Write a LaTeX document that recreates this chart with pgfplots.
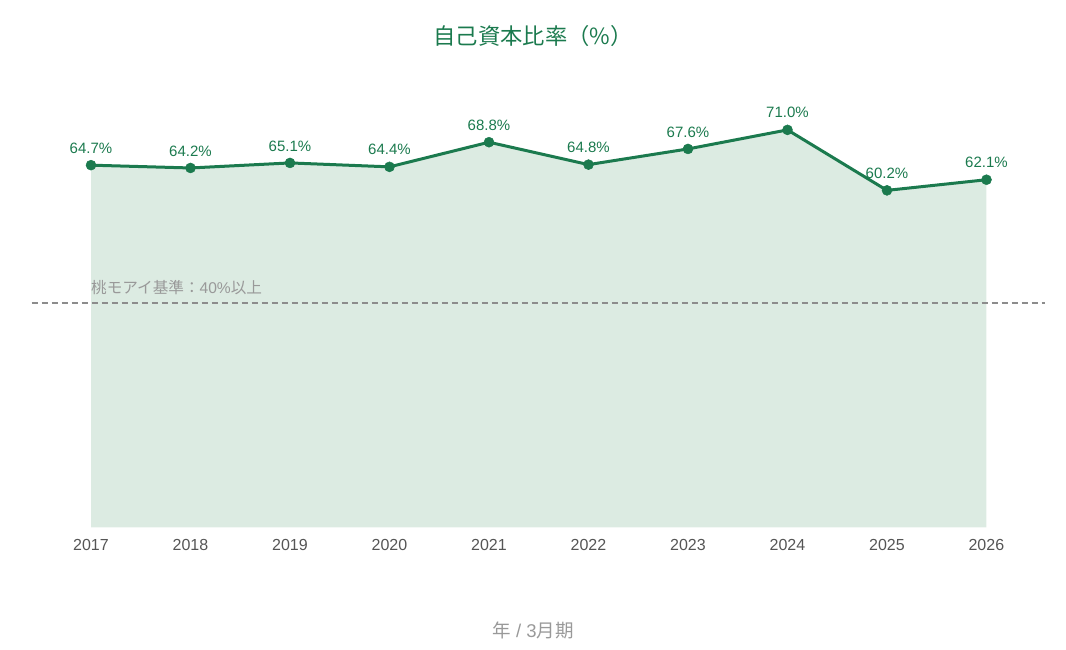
\documentclass[border=0pt]{standalone}
\usepackage{fontspec}
\setmainfont{Liberation Sans}
\newfontfamily\cjk{Noto Sans CJK JP}
\usepackage{pgfplots}
\pgfplotsset{compat=1.18}
\definecolor{mygreen}{RGB}{27,122,78}
\definecolor{areagreen}{RGB}{220,235,226}
\definecolor{tickgray}{RGB}{85,85,85}
\definecolor{midgray}{RGB}{153,153,153}
\definecolor{dashgray}{RGB}{140,140,140}
\begin{document}
\begin{tikzpicture}
\useasboundingbox (0,0) rectangle (1066pt,650pt);
\begin{axis}[
  at={(31.7pt,122.5pt)}, anchor=south west,
  scale only axis, width=1013.3pt, height=448pt,
  xmin=2016.404, xmax=2026.588, ymin=0, ymax=80,
  axis line style={draw=none},
  ytick=\empty,
  xtick={2017,...,2026},
  major tick length=0pt,
  /pgf/number format/1000 sep={},
  /pgf/number format/assume math mode=true,
  xticklabel style={font=\fontsize{16}{19}\selectfont, text=tickgray, inner sep=0pt, anchor=north, yshift=-12pt},
  clip=false,
]
% area
\addplot[fill=areagreen, draw=none, forget plot] coordinates {
  (2017,64.7) (2018,64.2) (2019,65.1) (2020,64.4) (2021,68.8)
  (2022,64.8) (2023,67.6) (2024,71.0) (2025,60.2) (2026,62.1)
} \closedcycle;
% threshold line
\addplot[dashgray, line width=2pt, dash pattern=on 6pt off 4pt, forget plot] coordinates {(2016.404,40) (2026.588,40)};
\node[anchor=base west, inner sep=0pt, text=midgray, font=\fontsize{15.6}{18}\selectfont] at (axis cs:2017,40) [yshift=10pt] {{\cjk 桃モアイ基準：}40\%{\cjk 以上}};
% line
\addplot[mygreen, line width=3pt, mark=*,
  mark options={fill=mygreen, draw=mygreen, line width=0.5pt, mark size=5pt},
  point meta=explicit symbolic,
  nodes near coords,
  every node near coord/.append style={font=\fontsize{15}{18}\selectfont, text=mygreen, anchor=south, inner sep=0pt, yshift=11.5pt},
] coordinates {
  (2017,64.7) [64.7\%]
  (2018,64.2) [64.2\%]
  (2019,65.1) [65.1\%]
  (2020,64.4) [64.4\%]
  (2021,68.8) [68.8\%]
  (2022,64.8) [64.8\%]
  (2023,67.6) [67.6\%]
  (2024,71.0) [71.0\%]
  (2025,60.2) [60.2\%]
  (2026,62.1) [62.1\%]
};
\end{axis}
\node[text=mygreen, font=\fontsize{22.3}{26}\selectfont\cjk] at (533pt,614pt) {自己資本比率（\%）};
\node[text=midgray, font=\fontsize{18.5}{22}\selectfont] at (533pt,20pt) {{\cjk 年} / 3{\cjk 月期}};
\end{tikzpicture}
\end{document}
